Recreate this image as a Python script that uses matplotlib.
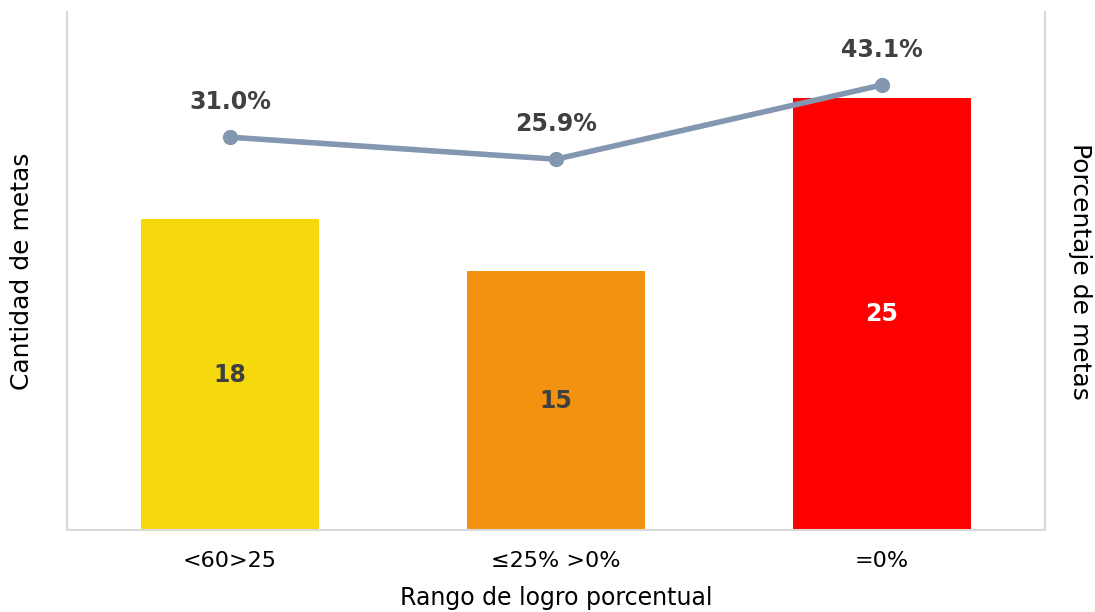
import numpy as np
import matplotlib.pyplot as plt

# data
categories = ["<60>25", "≤25% >0%", "=0%"]
cantidad = [18, 15, 25]
porcentaje = [31.0, 25.9, 43.1]
bar_colors = ["#F5D80E", "#F39110", "#FF0000"]
label_colors = ["#404040", "#404040", "white"]

plt.rcParams["font.family"] = ["DejaVu Sans"]

fig = plt.figure(figsize=(10.95, 6.12), dpi=100)
ax = fig.add_axes([67 / 1095, 1 - 530 / 612, 978 / 1095, 518 / 612])
x = np.arange(len(categories))

bars = ax.bar(x, cantidad, width=0.546, color=bar_colors, zorder=2)
for xi, v, c in zip(x, cantidad, label_colors):
    ax.text(xi, v / 2, str(v), ha="center", va="center", fontsize=17,
            fontweight="bold", color=c, zorder=3)

ax.set_xlim(-0.5, 2.5)
ax.set_ylim(0, 30)
ax.set_yticks([])
ax.set_xticks(x)
ax.set_xticklabels(categories, fontsize=16)
ax.tick_params(axis="x", length=0, pad=15)
ax.set_xlabel("Rango de logro porcentual", fontsize=17, labelpad=11)
ax.set_ylabel("Cantidad de metas", fontsize=18, labelpad=24)
for side in ["left", "right", "bottom"]:
    ax.spines[side].set_color("#D9D9D9")
    ax.spines[side].set_linewidth(1.5)
ax.spines["top"].set_visible(False)

ax2 = ax.twinx()
ax2.plot(x, porcentaje, color="#8497B0", linewidth=4, marker="o",
         markersize=10, zorder=4)
for xi, p in zip(x, porcentaje):
    ax2.annotate(f"{p:.1f}%", (xi, p), xytext=(0, 25), textcoords="offset points",
                 ha="center", va="center", fontsize=17, fontweight="bold",
                 color="#404040")
ax2.set_ylim(-60, 60)
ax2.set_yticks([])
ax2.set_ylabel("Porcentaje de metas", fontsize=18, rotation=270, labelpad=34)
for s in ax2.spines.values():
    s.set_visible(False)

plt.savefig("out.png", dpi=100)
